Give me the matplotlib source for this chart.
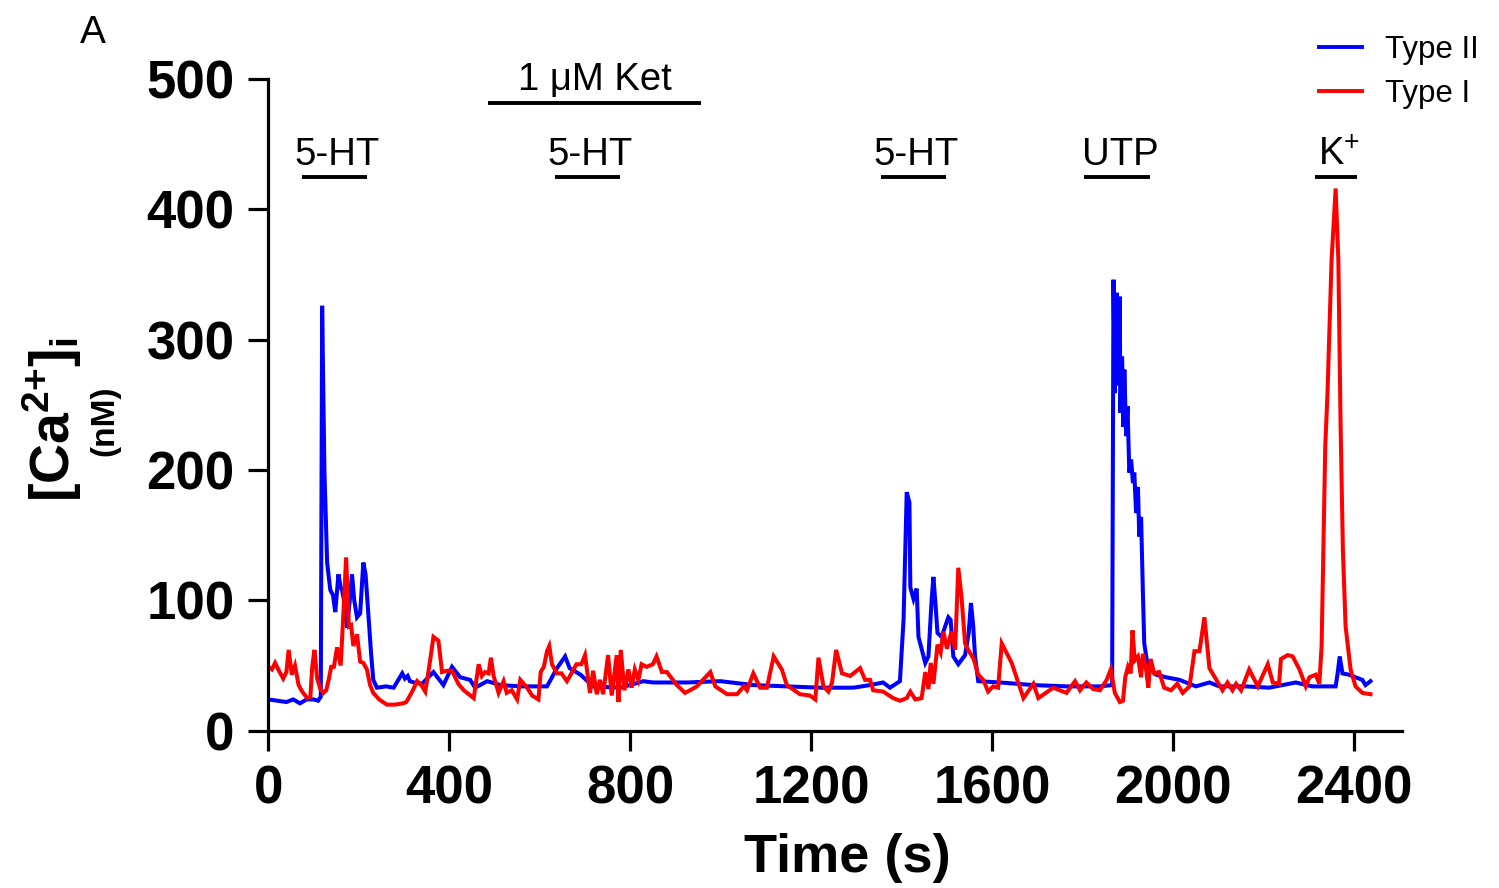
import matplotlib
matplotlib.use("Agg")
import matplotlib.pyplot as plt
from matplotlib.lines import Line2D

plt.rcParams['font.family'] = ['Liberation Sans', 'DejaVu Sans']
plt.rcParams['mathtext.fontset'] = 'custom'
plt.rcParams['mathtext.rm'] = 'Liberation Sans'
plt.rcParams['mathtext.it'] = 'Liberation Sans:italic'
plt.rcParams['mathtext.bf'] = 'Liberation Sans:bold'

# ---------------- data ----------------
type2_t = [0, 20, 40, 55, 70, 85, 100, 110, 116, 119, 124, 130, 137, 143, 148, 155, 160, 163,
           170, 174, 180, 185, 190, 196, 203, 210, 215, 221, 227, 232, 240, 260, 277, 296, 302,
           308, 313, 322, 340, 365, 387, 406, 424, 446, 457, 484, 513, 557, 616, 638, 656, 666,
           690, 718, 778, 829, 850, 926, 999, 1072, 1146, 1220, 1293, 1330, 1359, 1374, 1396,
           1404, 1411, 1417, 1419, 1426, 1433, 1437, 1452, 1459, 1466, 1470, 1474, 1479, 1488,
           1496, 1503, 1508, 1514, 1525, 1540, 1548, 1553, 1558, 1562, 1569, 1617, 1691, 1764,
           1838, 1865, 1868, 1871, 1875, 1878, 1882, 1883, 1887, 1890, 1892, 1896, 1899, 1903,
           1907, 1911, 1914, 1918, 1922, 1925, 1929, 1933, 1936, 1944, 1962, 1984, 2014, 2050,
           2080, 2102, 2160, 2212, 2271, 2307, 2359, 2363, 2368, 2374, 2388, 2403, 2418, 2425,
           2436]
type2_ca = [24, 23, 22, 24, 21, 24, 24, 23, 26, 326, 200, 129, 108, 104, 91, 120, 110, 108,
            95, 79, 100, 120, 100, 87, 90, 129, 120, 90, 60, 39, 33, 34, 33, 44, 40,
            42, 38, 37, 36, 45, 35, 49, 41, 39, 33, 38, 35, 34, 34, 48, 57, 48,
            43, 34, 33, 38, 37, 37, 38, 35, 34, 33, 33, 35, 37, 33, 38,
            85, 183, 175, 110, 101, 109, 72, 52, 57, 100, 118, 100, 75, 72,
            80, 87, 85, 57, 51, 58, 75, 98, 80, 57, 38, 37, 35, 34,
            34, 35, 346, 259, 336, 265, 333, 244, 287, 233, 277, 226, 249, 198,
            208, 190, 198, 167, 187, 149, 164, 106, 67, 49, 43, 41, 39, 34,
            37, 34, 34, 33, 37, 34, 34, 43, 57, 44, 43, 41, 39, 35,
            38]

type1_t = [0, 8, 15, 25, 33, 40, 45, 52, 59, 67, 75, 86, 93, 97, 102, 108, 115, 122, 128, 134,
           139, 145, 152, 160, 166, 172, 178, 183, 188, 196, 203, 210, 218, 225, 232, 245, 262,
           280, 298, 305, 318, 329, 338, 347, 356, 365, 376, 384, 395, 406, 420, 432, 454, 465,
           472, 479, 487, 492, 498, 509, 520, 527, 538, 550, 557, 572, 583, 597, 602, 609, 616,
           621, 627, 638, 648, 660, 670, 681, 692, 700, 711, 718, 726, 733, 740, 751, 759, 770,
           774, 779, 787, 796, 803, 810, 818, 825, 836, 850, 858, 870, 881, 903, 921, 932, 947,
           977, 988, 1014, 1036, 1051, 1058, 1072, 1087, 1102, 1117, 1135, 1146, 1175, 1197,
           1209, 1216, 1227, 1238, 1246, 1255, 1268, 1286, 1308, 1319, 1330, 1337, 1359, 1381,
           1396, 1411, 1419, 1430, 1444, 1452, 1459, 1464, 1470, 1479, 1486, 1492, 1500, 1510,
           1518, 1525, 1532, 1540, 1547, 1559, 1569, 1580, 1591, 1602, 1613, 1621, 1643, 1669,
           1691, 1702, 1735, 1764, 1783, 1794, 1808, 1823, 1838, 1853, 1862, 1871, 1882, 1889,
           1894, 1900, 1906, 1910, 1915, 1922, 1929, 1933, 1940, 1945, 1950, 1958, 1969, 1980,
           1995, 2009, 2021, 2036, 2047, 2058, 2069, 2080, 2109, 2120, 2131, 2139, 2150, 2168,
           2187, 2209, 2220, 2234, 2238, 2253, 2264, 2279, 2293, 2301, 2315, 2323, 2328, 2336,
           2341, 2350, 2359, 2365, 2370, 2375, 2381, 2392, 2403, 2418, 2436]
type1_ca = [49, 47, 52, 45, 40, 45, 62, 43, 50, 35, 30, 25, 26, 49, 62, 40, 32, 29, 31, 40,
            49, 49, 64, 50, 90, 133, 80, 81, 65, 74, 53, 52, 47, 35, 29, 24, 20,
            20, 21, 22, 30, 38, 35, 30, 50, 72, 69, 45, 46, 46, 36, 31, 25, 51,
            42, 45, 44, 56, 42, 29, 38, 29, 31, 24, 39, 33, 27, 24, 45, 49, 61,
            65, 51, 44, 44, 38, 44, 51, 51, 58, 29, 46, 28, 39, 28, 58, 27, 58,
            22, 62, 31, 47, 33, 47, 39, 51, 49, 51, 57, 45, 45, 35, 29, 31, 34,
            45, 34, 28, 28, 34, 31, 44, 33, 33, 57, 47, 35, 28, 27,
            24, 56, 34, 30, 37, 62, 44, 42, 48, 39, 39, 31, 30, 25,
            23, 25, 30, 24, 25, 45, 32, 52, 36, 66, 60, 76, 63, 76,
            62, 125, 103, 67, 62, 55, 43, 39, 30, 34, 33, 67, 52, 25,
            36, 25, 33, 29, 38, 31, 37, 32, 31, 39, 47, 29, 22, 23,
            41, 49, 44, 77, 54, 57, 41, 59, 47, 33, 55, 44, 45, 33,
            31, 36, 29, 34, 61, 61, 87, 48, 31, 37, 31, 36, 31, 47,
            34, 51, 37, 36, 55, 58, 57, 47, 34, 41, 43, 36, 65, 218,
            259, 361, 416, 361, 233, 139, 80, 47, 34, 29, 28]

# treatment bars: (label, start s, end s)
treatments = [("5-HT", 75, 219), ("5-HT", 634, 778), ("5-HT", 1355, 1498),
              ("UTP", 1803, 1949), ("K$^{+}$", 2314, 2407)]
ket_label = "1 μM Ket"
ket_span = (486, 957)

x_ticks = [0, 400, 800, 1200, 1600, 2000, 2400]
y_ticks = [0, 100, 200, 300, 400, 500]

# ---------------- figure ----------------
W, H = 1499, 888
fig = plt.figure(figsize=(W / 100, H / 100), dpi=100)
ax = fig.add_axes([268.3 / W, 1 - 730.7 / H, (1401.7 - 268.3) / W, (730.7 - 79) / H])

lw = 2.9
ax.plot(type2_t, type2_ca, color='#0000ff', lw=lw, label='Type II', solid_joinstyle='miter')
ax.plot(type1_t, type1_ca, color='#ff0000', lw=lw, label='Type I', solid_joinstyle='miter')

ax.set_xlim(0, 2505)
ax.set_ylim(0, 500)
ax.set_xticks(x_ticks)
ax.set_yticks(y_ticks)
for s in ['top', 'right']:
    ax.spines[s].set_visible(False)
for s in ['left', 'bottom']:
    ax.spines[s].set_linewidth(2.3)
ax.tick_params(axis='both', which='major', length=14.4, width=2.3, direction='out')
ax.tick_params(axis='x', pad=10)
ax.tick_params(axis='y', pad=10)
for lab in ax.get_xticklabels() + ax.get_yticklabels():
    lab.set_fontsize(38)
    lab.set_fontweight('bold')

ax.set_xlabel('Time (s)', fontsize=39, fontweight='bold', labelpad=13)
ax.xaxis.label.set_x(0.511)

# y label as two lines of text
fig.text(52 / W, 1 - 420 / H, r'$\mathbf{[Ca^{2{+}}]_i}$', rotation=90,
         fontsize=40, ha='center', va='center')
fig.text(105 / W, 1 - 421 / H, '(nM)', rotation=90, fontsize=24, fontweight='bold',
         ha='center', va='center')

# panel letter
fig.text(80 / W, 1 - 43 / H, 'A', fontsize=28, ha='left', va='baseline')

# treatment annotations
bar_y = 425
for lab, a, b in treatments:
    ax.plot([a, b], [bar_y, bar_y], color='black', lw=2.8, clip_on=False, solid_capstyle='butt')
    ax.text((a + b) / 2 + 6, 434, lab, fontsize=27.5, ha='center', va='baseline')
ax.plot(list(ket_span), [481.5, 481.5], color='black', lw=2.8, clip_on=False,
        solid_capstyle='butt')
ax.text(sum(ket_span) / 2, 491.5, ket_label, fontsize=27.5, ha='center', va='baseline',
        clip_on=False)

# legend
handles = [Line2D([], [], color='#0000ff', lw=2.8), Line2D([], [], color='#ff0000', lw=2.8)]
fig.legend(handles, ['Type II', 'Type I'], loc='upper left',
           bbox_to_anchor=(1319 / W, 1 - 35 / H), bbox_transform=fig.transFigure,
           frameon=False, fontsize=22.5, handlelength=1.38, handletextpad=0.72,
           labelspacing=0.45, borderpad=0, borderaxespad=0)

fig.savefig('out.png', dpi=100)
